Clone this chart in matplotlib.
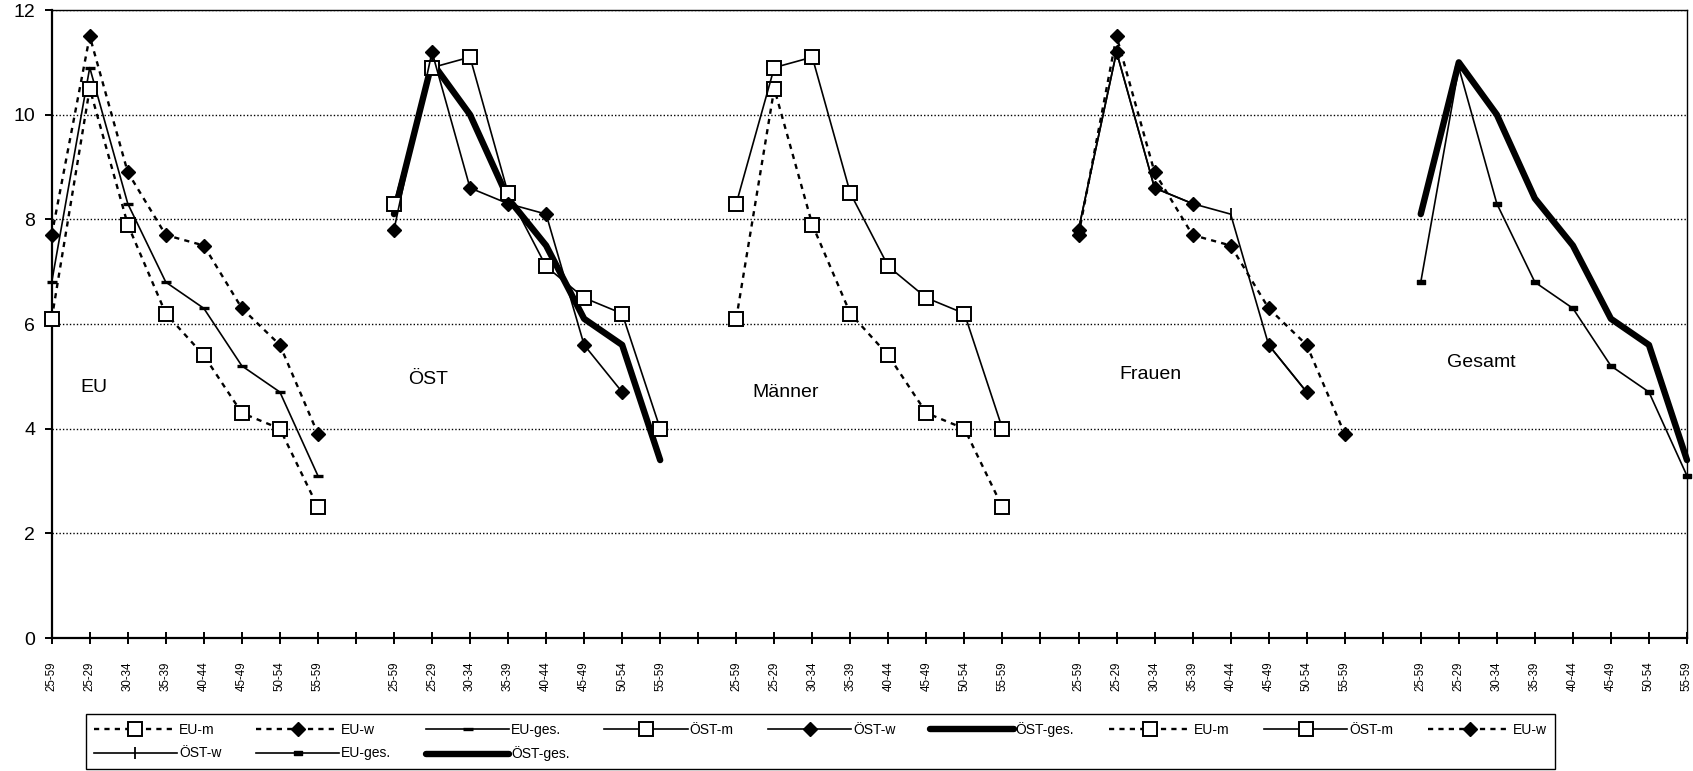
import numpy as np
import matplotlib
matplotlib.use("Agg")
import matplotlib.pyplot as plt
from matplotlib.path import Path

plt.rcParams['font.family'] = ['Liberation Sans', 'DejaVu Sans']

# ---------------- data ----------------
ages = ["25-59", "25-29", "30-34", "35-39", "40-44", "45-49", "50-54", "55-59"]
groups = ["EU", "ÖST", "Männer", "Frauen", "Gesamt"]

eu_m = [6.1, 10.5, 7.9, 6.2, 5.4, 4.3, 4.0, 2.5]
eu_w = [7.7, 11.5, 8.9, 7.7, 7.5, 6.3, 5.6, 3.9]
eu_ges = [6.8, 10.9, 8.3, 6.8, 6.3, 5.2, 4.7, 3.1]
ost_m = [8.3, 10.9, 11.1, 8.5, 7.1, 6.5, 6.2, 4.0]
ost_w = [7.8, 11.2, 8.6, 8.3, 8.1, 5.6, 4.7, np.nan]
ost_ges = [8.1, 11.0, 10.0, 8.4, 7.5, 6.1, 5.6, 3.4]

# ÖST-w diamond marks that also appear in the "Frauen" block (none at 40-44)
ost_w_frauen_marks = [v if a != "40-44" else np.nan for a, v in zip(ages, ost_w)]

n_age = len(ages)
slot = n_age + 1
n_slots = slot * (len(groups) - 1) + n_age  # 44


def place(values, g):
    arr = np.full(n_slots, np.nan)
    arr[g * slot: g * slot + n_age] = values
    return arr


x = np.arange(n_slots)
tick_labels = []
for g in range(len(groups)):
    tick_labels += ages
    if g < len(groups) - 1:
        tick_labels.append("")

# ---------------- figure ----------------
fig = plt.figure(figsize=(16.93, 7.71), dpi=100)
ax = fig.add_axes([0.03054, 0.1725, 0.9659, 0.8145])

for yv in [2, 4, 6, 8, 10, 12]:
    ax.axhline(yv, color='black', lw=1.0, ls=(0, (1.0, 1.5)), zorder=1)

dash = (0, (2.2, 2.2))
bar_marker = Path([(-1, -0.45), (1, -0.45), (1, 0.45), (-1, 0.45), (-1, -0.45)],
                  [Path.MOVETO, Path.LINETO, Path.LINETO, Path.LINETO, Path.CLOSEPOLY])

sq = dict(marker='s', ms=10, mfc='white', mec='black', mew=1.4)
dia = dict(marker='D', ms=6.8, mfc='black', mec='black', mew=1)
thin = 1.2
thick = 4.6

handles = []

def line(vals, label, **kw):
    h, = ax.plot(x, vals, color='black', label=label, clip_on=False, **kw)
    handles.append(h)
    return h

ost_w_full = place(ost_w, 1)
ost_w_full[3 * slot: 3 * slot + n_age] = ost_w_frauen_marks

line(place(eu_m, 0), "EU-m", ls=dash, lw=1.7, zorder=4, **sq)
line(place(eu_w, 0), "EU-w", ls=dash, lw=1.7, zorder=4, **dia)
line(place(eu_ges, 0), "EU-ges.", ls='-', lw=thin, marker='_', ms=7, mew=2.4, zorder=3)
line(place(ost_m, 1), "ÖST-m", ls='-', lw=thin, zorder=4, **sq)
line(ost_w_full, "ÖST-w", ls='-', lw=thin, zorder=4, **dia)
line(place(ost_ges, 1), "ÖST-ges.", ls='-', lw=thick, solid_capstyle='round', zorder=2)
line(place(eu_m, 2), "EU-m", ls=dash, lw=1.7, zorder=4, **sq)
line(place(ost_m, 2), "ÖST-m", ls='-', lw=thin, zorder=4, **sq)
line(place(eu_w, 3), "EU-w", ls=dash, lw=1.7, zorder=4, **dia)
line(place(ost_w, 3), "ÖST-w", ls='-', lw=thin, marker='|', ms=9, mew=1.3, zorder=3)
line(place(eu_ges, 4), "EU-ges.", ls='-', lw=thin, marker=bar_marker, ms=6, mfc='black', mec='black', zorder=3)
line(place(ost_ges, 4), "ÖST-ges.", ls='-', lw=thick, solid_capstyle='round', zorder=2)

# group labels
label_pos = [(1.1, 4.78), (9.9, 4.94), (19.3, 4.7), (28.9, 5.03), (37.6, 5.26)]
for name, (lx, ly) in zip(groups, label_pos):
    ax.text(lx, ly, name, fontsize=14, ha='center', va='center')

ax.set_xlim(0, n_slots - 1)
ax.set_ylim(0, 12)
ax.set_yticks([0, 2, 4, 6, 8, 10, 12])
ax.set_yticklabels(["0", "2", "4", "6", "8", "10", "12"])
ax.set_xticks(x)
ax.set_xticklabels(tick_labels, rotation=90, fontsize=8.3)
ax.tick_params(axis='x', direction='inout', length=8, width=1.4, pad=13)
ax.tick_params(axis='y', direction='out', length=5, width=1.4, pad=7, labelsize=14)

for side in ['left', 'bottom']:
    ax.spines[side].set_linewidth(1.6)
for side in ['right', 'top']:
    ax.spines[side].set_linewidth(1.0)

# legend (row-major order -> matplotlib column order)
order = [0, 9, 1, 10, 2, 11, 3, 4, 5, 6, 7, 8]
leg = fig.legend([handles[i] for i in order], [handles[i].get_label() for i in order],
                 loc='lower left', bbox_to_anchor=(86 / 1693, 2 / 771, 1469 / 1693, 56 / 771),
                 mode='expand', ncol=9, borderaxespad=0,
                 handlelength=6.0, handletextpad=0.15, labelspacing=0.7, borderpad=0.55,
                 frameon=True, fancybox=False, edgecolor='black', framealpha=1,
                 prop={'family': ['Liberation Sans Narrow', 'Liberation Sans', 'DejaVu Sans'], 'size': 10})
leg.get_frame().set_linewidth(1.0)

fig.savefig("out.png", dpi=100)
